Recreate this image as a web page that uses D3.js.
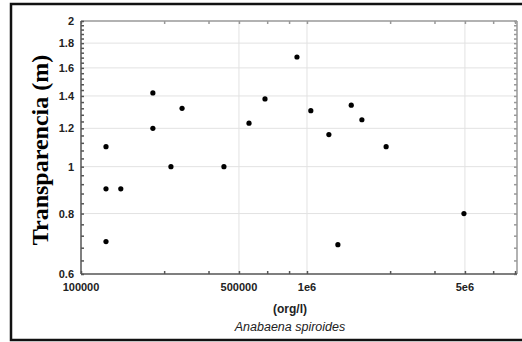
<!DOCTYPE html>
<html>
<head>
<meta charset="utf-8">
<script src="https://cdn.jsdelivr.net/npm/d3@7"></script>
<style>
  body { margin: 0; background: #fff; }
  svg { display: block; }
</style>
</head>
<body>
<div class="canvas-graph"></div>
<script>
// cell density (org/l) vs transparency (m)
const density = [129000, 129000, 129000, 150000, 208000, 208000, 250000, 280000, 429000, 554000,
                 652000, 903000, 1040000, 1250000, 1370000, 1570000, 1750000, 2240000, 4950000];
const transparency = [1.10, 0.90, 0.70, 0.90, 1.42, 1.20, 1.00, 1.32, 1.00, 1.23,
                      1.38, 1.685, 1.305, 1.165, 0.69, 1.34, 1.25, 1.10, 0.80];
const xTicks = [100000, 500000, 1000000, 5000000];
const xTickLabels = ['100000', '500000', '1e6', '5e6'];
const yTicks = [0.6, 0.8, 1, 1.2, 1.4, 1.6, 1.8, 2];
const yTickLabels = ['0.6', '0.8', '1', '1.2', '1.4', '1.6', '1.8', '2'];

const points = density.map((d, i) => ({ x: d, y: transparency[i] }));

const dims = { width: 522, height: 342 };
const plot = { left: 81, right: 517, top: 21, bottom: 274 };

const svg = d3.select('.canvas-graph')
    .append('svg')
    .attr('width', dims.width)
    .attr('height', dims.height);

// outer frame
svg.append('rect')
    .attr('x', 11).attr('y', 4)
    .attr('width', 520).attr('height', 336)
    .attr('fill', 'none')
    .attr('stroke', '#111')
    .attr('stroke-width', 2.5);

const x = d3.scaleLog()
    .domain([100000, 8500000])
    .range([plot.left, plot.right]);

const y = d3.scaleLog()
    .domain([0.6, 2])
    .range([plot.bottom, plot.top]);

// minor ticks: two per interval on x, step 0.04 on y (linear spacing)
const xMinor = [];
const xBounds = xTicks.concat([10000000]);
for (let i = 0; i < xBounds.length - 1; i++) {
    const a = xBounds[i], b = xBounds[i + 1];
    [1, 2].forEach(k => {
        const v = a + (b - a) * k / 3;
        if (v < x.domain()[1]) xMinor.push(v);
    });
}
const yMinor = d3.range(0.64, 2, 0.04).filter(v => Math.abs(v * 5 - Math.round(v * 5)) > 0.01);

// grid
const grid = svg.append('g').attr('stroke', '#e2e2e2').attr('stroke-width', 1);
grid.selectAll('.gx')
    .data(xTicks.slice(1))
    .enter().append('line')
    .attr('x1', d => x(d)).attr('x2', d => x(d))
    .attr('y1', plot.top).attr('y2', plot.bottom);
grid.selectAll('.gy')
    .data(yTicks.slice(1, -1))
    .enter().append('line')
    .attr('y1', d => y(d)).attr('y2', d => y(d))
    .attr('x1', plot.left).attr('x2', plot.right);

// top and right borders (lighter)
const topAxis = svg.append('g')
    .attr('transform', `translate(0, ${plot.top})`)
    .call(d3.axisBottom(x).tickValues(xTicks.concat(xMinor)).tickSize(3).tickFormat(''));
const rightAxis = svg.append('g')
    .attr('transform', `translate(${plot.right}, 0)`)
    .call(d3.axisLeft(y).tickValues(yTicks.concat(yMinor)).tickSize(3).tickFormat(''));
[topAxis, rightAxis].forEach(g => {
    g.selectAll('path, line').attr('stroke', '#999').attr('stroke-width', 1.5);
    g.select('.domain').attr('d', g === topAxis
        ? `M${plot.left},0H${plot.right}` : `M0,${plot.top}V${plot.bottom}`);
});

// bottom axis
const xAxis = svg.append('g')
    .attr('transform', `translate(0, ${plot.bottom})`)
    .call(d3.axisTop(x).tickValues(xTicks.concat(xMinor)).tickSize(3).tickFormat(''));
xAxis.select('.domain').attr('d', `M${plot.left},0H${plot.right}`);
xAxis.selectAll('path, line').attr('stroke', '#555').attr('stroke-width', 1.5);

svg.append('g')
    .selectAll('text')
    .data(xTicks)
    .enter().append('text')
    .attr('x', d => x(d))
    .attr('y', plot.bottom + 17)
    .attr('text-anchor', 'middle')
    .attr('font-family', 'Liberation Sans, Arial, sans-serif')
    .attr('font-weight', 'bold')
    .attr('font-size', 11)
    .attr('fill', '#222')
    .text((d, i) => xTickLabels[i]);

// left axis
const yAxis = svg.append('g')
    .attr('transform', `translate(${plot.left}, 0)`)
    .call(d3.axisRight(y).tickValues(yTicks.concat(yMinor)).tickSize(3).tickFormat(''));
yAxis.select('.domain').attr('d', `M0,${plot.top}V${plot.bottom}`);
yAxis.selectAll('path, line').attr('stroke', '#555').attr('stroke-width', 1.5);

svg.append('g')
    .selectAll('text')
    .data(yTicks)
    .enter().append('text')
    .attr('x', plot.left - 7)
    .attr('y', d => y(d) + 4)
    .attr('text-anchor', 'end')
    .attr('font-family', 'Liberation Sans, Arial, sans-serif')
    .attr('font-weight', 'bold')
    .attr('font-size', 11)
    .attr('fill', '#222')
    .text((d, i) => yTickLabels[i]);

// points
svg.append('g')
    .selectAll('circle')
    .data(points)
    .enter().append('circle')
    .attr('cx', d => x(d.x))
    .attr('cy', d => y(d.y))
    .attr('r', 2.6)
    .attr('fill', '#000');

// titles
svg.append('text')
    .attr('transform', 'translate(48, 150) rotate(-90)')
    .attr('text-anchor', 'middle')
    .attr('font-family', 'Liberation Serif, Times New Roman, serif')
    .attr('font-weight', 'bold')
    .attr('font-size', 24)
    .text('Transparencia (m)');

svg.append('text')
    .attr('x', 290).attr('y', 313)
    .attr('text-anchor', 'middle')
    .attr('font-family', 'Liberation Sans, Arial, sans-serif')
    .attr('font-weight', 'bold')
    .attr('font-size', 12)
    .attr('fill', '#222')
    .text('(org/l)');

svg.append('text')
    .attr('x', 290).attr('y', 331)
    .attr('text-anchor', 'middle')
    .attr('font-family', 'Liberation Sans, Arial, sans-serif')
    .attr('font-style', 'italic')
    .attr('font-size', 12.5)
    .attr('fill', '#222')
    .text('Anabaena spiroides');
</script>
</body>
</html>
